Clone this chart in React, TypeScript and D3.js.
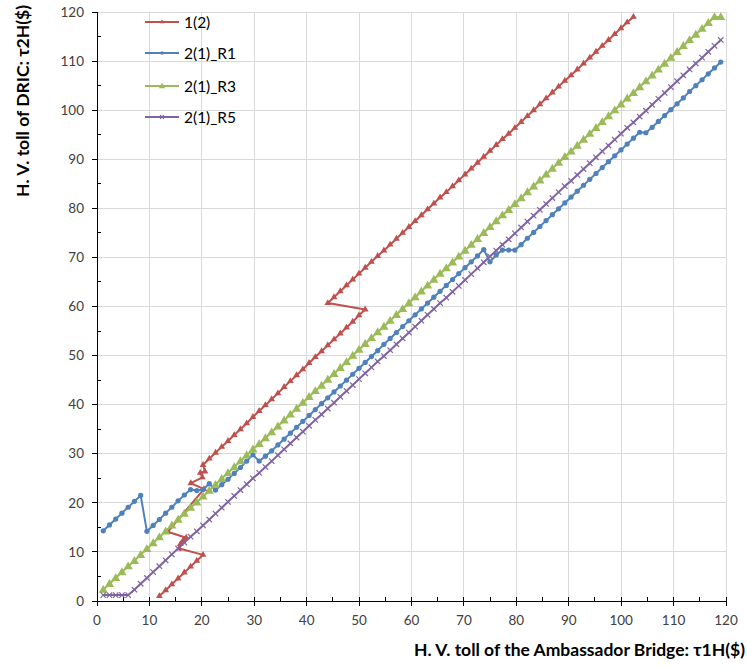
import React, { useEffect } from "react";
import * as d3 from "d3";

// τ1H values (x grid shared by the three 2(1) series)
const tau1 = [
  1.19, 2.38, 3.57, 4.76, 5.95, 7.14, 8.33, 9.52, 10.71, 11.9,
  13.09, 14.28, 15.47, 16.66, 17.85, 19.04, 20.23, 21.42, 22.61, 23.8,
  24.99, 26.18, 27.37, 28.56, 29.75, 30.94, 32.13, 33.32, 34.51, 35.7,
  36.89, 38.08, 39.27, 40.46, 41.65, 42.84, 44.03, 45.22, 46.41, 47.6,
  48.79, 49.98, 51.17, 52.36, 53.55, 54.74, 55.93, 57.12, 58.31, 59.5,
  60.69, 61.88, 63.07, 64.26, 65.45, 66.64, 67.83, 69.02, 70.21, 71.4,
  72.59, 73.78, 74.97, 76.16, 77.35, 78.54, 79.73, 80.92, 82.11, 83.3,
  84.49, 85.68, 86.87, 88.06, 89.25, 90.44, 91.63, 92.82, 94.01, 95.2,
  96.39, 97.58, 98.77, 99.96, 101.15, 102.34, 103.53, 104.72, 105.91, 107.1,
  108.29, 109.48, 110.67, 111.86, 113.05, 114.24, 115.43, 116.62, 117.81, 119.0,
];

const r1 = [
  14.3, 15.5, 16.7, 17.9, 19.1, 20.3, 21.5, 14.2, 15.4, 16.6,
  17.9, 19.1, 20.4, 21.6, 22.7, 22.5, 22.7, 23.9, 22.6, 23.7,
  24.8, 26.0, 27.2, 28.5, 29.8, 28.5, 29.5, 30.6, 31.8, 33.0,
  34.2, 35.4, 36.6, 37.8, 39.0, 40.2, 41.4, 42.6, 43.8, 45.0,
  46.2, 47.4, 48.6, 49.8, 51.0, 52.3, 53.5, 54.7, 55.9, 57.1,
  58.3, 59.5, 60.7, 61.9, 63.1, 64.3, 65.5, 66.7, 67.9, 69.1,
  70.3, 71.6, 69.1, 70.5, 71.5, 71.5, 71.5, 72.6, 73.9, 75.1,
  76.3, 77.5, 78.7, 79.9, 81.1, 82.3, 83.5, 84.7, 85.9, 87.1,
  88.3, 89.5, 90.7, 91.9, 93.1, 94.3, 95.5, 95.4, 96.5, 97.7,
  98.9, 100.1, 101.3, 102.5, 103.8, 105.0, 106.2, 107.4, 108.6, 109.8,
];

const r3 = [
  2.3, 3.5, 4.7, 5.9, 7.1, 8.2, 9.4, 10.6, 11.8, 13.0,
  14.2, 15.4, 16.6, 17.8, 19.0, 20.1, 21.3, 22.5, 23.7, 24.9,
  26.1, 27.3, 28.5, 29.7, 30.9, 32.0, 33.2, 34.4, 35.6, 36.8,
  38.0, 39.2, 40.4, 41.6, 42.8, 43.9, 45.1, 46.3, 47.5, 48.7,
  50.0, 51.2, 52.4, 53.6, 54.8, 55.9, 57.1, 58.3, 59.5, 60.7,
  61.9, 63.1, 64.3, 65.5, 66.7, 67.8, 69.0, 70.2, 71.4, 72.6,
  73.8, 75.0, 76.2, 77.4, 78.6, 79.7, 80.9, 82.1, 83.3, 84.5,
  85.7, 86.9, 88.1, 89.3, 90.5, 91.6, 92.8, 94.0, 95.2, 96.4,
  97.6, 98.8, 100.0, 101.2, 102.4, 103.5, 104.7, 105.9, 107.1, 108.3,
  109.5, 110.7, 111.9, 113.1, 114.3, 115.4, 116.6, 117.8, 119.0, 119.0,
];

const r5 = [
  1.2, 1.2, 1.2, 1.2, 1.2, 2.3, 3.5, 4.7, 5.9, 7.1,
  8.3, 9.5, 10.7, 11.9, 13.1, 14.2, 15.4, 16.6, 17.8, 19.0,
  20.2, 21.4, 22.6, 23.8, 25.0, 26.1, 27.3, 28.5, 29.7, 30.9,
  32.1, 33.3, 34.5, 35.7, 36.9, 38.0, 39.2, 40.4, 41.6, 42.8,
  44.0, 45.2, 46.4, 47.6, 48.8, 49.9, 51.1, 52.3, 53.5, 54.7,
  55.9, 57.1, 58.3, 59.5, 60.7, 61.8, 63.0, 64.2, 65.4, 66.6,
  67.8, 69.0, 70.2, 71.4, 72.6, 73.7, 74.9, 76.1, 77.3, 78.5,
  79.7, 80.9, 82.1, 83.3, 84.5, 85.6, 86.8, 88.0, 89.2, 90.4,
  91.6, 92.8, 94.0, 95.2, 96.4, 97.5, 98.7, 99.9, 101.1, 102.3,
  103.5, 104.7, 105.9, 107.1, 108.3, 109.5, 110.7, 111.9, 113.1, 114.3,
];

// 1(2): its own (x, y) path, which doubles back twice
const redX = [
  11.9, 13.09, 14.28, 15.47, 16.66, 17.85, 19.04, 20.23,
  15.7, 15.9, 16.4, 17.0, 13.5, 20.4, 17.9, 20.1, 19.7, 20.6,
  20.23, 21.42, 22.61, 23.8, 24.99, 26.18, 27.37, 28.56, 29.75, 30.94,
  32.13, 33.32, 34.51, 35.7, 36.89, 38.08, 39.27, 40.46, 41.65, 42.84,
  44.03, 45.22, 46.41, 47.6, 48.79, 49.98, 51.17,
  44.03, 45.22, 46.41, 47.6, 48.79, 49.98, 51.17, 52.36, 53.55, 54.74,
  55.93, 57.12, 58.31, 59.5, 60.69, 61.88, 63.07, 64.26, 65.45, 66.64,
  67.83, 69.02, 70.21, 71.4, 72.59, 73.78, 74.97, 76.16, 77.35, 78.54,
  79.73, 80.92, 82.11, 83.3, 84.49, 85.68, 86.87, 88.06, 89.25, 90.44,
  91.63, 92.82, 94.01, 95.2, 96.39, 97.58, 98.77, 99.96, 101.15, 102.34,
];
const redY = [
  1.0, 2.2, 3.4, 4.6, 5.8, 7.0, 8.2, 9.4,
  10.7, 11.6, 12.3, 12.9, 14.1, 22.8, 24.0, 25.2, 26.1, 26.4,
  27.7, 29.0, 30.2, 31.4, 32.6, 33.8, 35.0, 36.2, 37.5, 38.7,
  39.9, 41.1, 42.3, 43.6, 44.8, 46.0, 47.2, 48.5, 49.7, 50.9,
  52.1, 53.3, 54.5, 55.7, 56.9, 58.2, 59.4,
  60.7, 61.9, 63.1, 64.3, 65.5, 66.7, 67.9, 69.1, 70.3, 71.4,
  72.6, 73.8, 75.0, 76.2, 77.4, 78.6, 79.8, 81.0, 82.2, 83.3,
  84.5, 85.7, 86.9, 88.1, 89.3, 90.5, 91.7, 92.9, 94.1, 95.2,
  96.4, 97.6, 98.8, 100.0, 101.2, 102.4, 103.6, 104.8, 106.0, 107.1,
  108.3, 109.5, 110.7, 111.9, 113.1, 114.3, 115.5, 116.7, 117.9, 119.0,
];

const seriesNames = ["1(2)", "2(1)_R1", "2(1)_R3", "2(1)_R5"];
const seriesColors = ["#C0504D", "#4F81BD", "#9BBB59", "#8064A2"];
const xTicks = [0, 10, 20, 30, 40, 50, 60, 70, 80, 90, 100, 110, 120];
const yTicks = [0, 10, 20, 30, 40, 50, 60, 70, 80, 90, 100, 110, 120];
const minorTicks = [5, 15, 25, 35, 45, 55, 65, 75, 85, 95, 105, 115];
const xTitle = "H. V. toll of the Ambassador Bridge: τ1H($)";
const yTitle = "H. V. toll of DRIC: τ2H($)";

const FONT = "Lato, 'Open Sans', 'DejaVu Sans', sans-serif";

type Pt = [number, number];

function Marker({ kind, cx, cy, color, small }: { kind: number; cx: number; cy: number; color: string; small?: boolean }) {
  const k = small ? 0.7 : 1;
  if (kind === 0) {
    const p = d3.symbol().type(d3.symbolTriangle).size(20 * k * k)();
    return <path d={p || ""} transform={`translate(${cx},${cy})`} fill={color} />;
  }
  if (kind === 1) {
    return <circle cx={cx} cy={cy} r={2.6 * k} fill={color} />;
  }
  if (kind === 2) {
    const p = d3.symbol().type(d3.symbolTriangle).size(36 * k * k)();
    return <path d={p || ""} transform={`translate(${cx},${cy + 0.5})`} fill={color} />;
  }
  const s = 2.7 * k;
  return (
    <g stroke={color} strokeWidth={1.2}>
      <line x1={cx - s} y1={cy - s} x2={cx + s} y2={cy + s} />
      <line x1={cx - s} y1={cy + s} x2={cx + s} y2={cy - s} />
    </g>
  );
}

export default function App() {
  useEffect(() => {
    document.body.style.margin = "0";
  }, []);

  const W = 747;
  const H = 668;
  const x = d3.scaleLinear().domain([0, 120]).range([97, 726]);
  const y = d3.scaleLinear().domain([0, 120]).range([601, 12]);
  const line = d3.line<Pt>().x((d) => x(d[0])).y((d) => y(d[1]));

  const red: Pt[] = redX.map((v, i) => [v, redY[i]] as Pt);
  const blue: Pt[] = tau1.map((v, i) => [v, r1[i]] as Pt);
  const green: Pt[] = tau1.map((v, i) => [v, r3[i]] as Pt);
  const purple: Pt[] = tau1.map((v, i) => [v, r5[i]] as Pt);
  const all = [red, blue, green, purple];

  const legendY = [22, 53, 86, 117];

  return (
    <svg width={W} height={H} style={{ position: "absolute", left: 0, top: 0, background: "#fff" }}>
      <rect x={0} y={0} width={W} height={H} fill="#fff" />
      {/* gridlines */}
      <g stroke="#D9D9D9" strokeWidth={1} shapeRendering="crispEdges">
        {xTicks.slice(1).map((t) => (
          <line key={"gx" + t} x1={x(t)} x2={x(t)} y1={y(0)} y2={y(120)} />
        ))}
        {yTicks.slice(1).map((t) => (
          <line key={"gy" + t} x1={x(0)} x2={x(120)} y1={y(t)} y2={y(t)} />
        ))}
      </g>
      {/* axes */}
      <g stroke="#000" strokeWidth={1} shapeRendering="crispEdges">
        <line x1={x(0)} x2={x(120)} y1={y(0)} y2={y(0)} />
        <line x1={x(0)} x2={x(0)} y1={y(0)} y2={y(120)} />
        {xTicks.map((t) => (
          <line key={"tx" + t} x1={x(t)} x2={x(t)} y1={y(0) - 4} y2={y(0) + 5} />
        ))}
        {minorTicks.map((t) => (
          <line key={"mx" + t} x1={x(t)} x2={x(t)} y1={y(0) - 4} y2={y(0)} />
        ))}
        {yTicks.map((t) => (
          <line key={"ty" + t} x1={x(0) - 5} x2={x(0)} y1={y(t)} y2={y(t)} />
        ))}
        {minorTicks.map((t) => (
          <line key={"my" + t} x1={x(0)} x2={x(0) + 4} y1={y(t)} y2={y(t)} />
        ))}
      </g>
      {/* tick labels */}
      <g fontFamily={FONT} fontSize={13.5} fill="#404040">
        {xTicks.map((t) => (
          <text key={"lx" + t} x={x(t)} y={625} textAnchor="middle">
            {t}
          </text>
        ))}
        {yTicks.map((t) => (
          <text key={"ly" + t} x={84} y={y(t) + 4.7} textAnchor="end">
            {t}
          </text>
        ))}
      </g>
      {/* series */}
      {all.map((pts, si) => (
        <g key={"s" + si}>
          <path d={line(pts) || ""} fill="none" stroke={seriesColors[si]} strokeWidth={2} strokeLinejoin="round" />
          {pts.map((p, pi) => (
            <Marker key={pi} kind={si} cx={x(p[0])} cy={y(p[1])} color={seriesColors[si]} />
          ))}
        </g>
      ))}
      {/* legend */}
      <g fontFamily={FONT} fontSize={15.5} fill="#000">
        {seriesNames.map((n, i) => (
          <g key={"lg" + i}>
            <line x1={145} x2={179} y1={legendY[i]} y2={legendY[i]} stroke={seriesColors[i]} strokeWidth={2} />
            <Marker kind={i} cx={162} cy={legendY[i]} color={seriesColors[i]} small />
            <text x={184} y={legendY[i] + 5.5}>
              {n}
            </text>
          </g>
        ))}
      </g>
      {/* axis titles */}
      <text x={745} y={656} textAnchor="end" fontFamily={FONT} fontSize={17.5} fontWeight="bold" fill="#000">
        {xTitle}
      </text>
      <text
        transform="translate(29,5) rotate(-90)"
        textAnchor="end"
        fontFamily={FONT}
        fontSize={17.5}
        fontWeight="bold"
        fill="#000"
      >
        {yTitle}
      </text>
    </svg>
  );
}
